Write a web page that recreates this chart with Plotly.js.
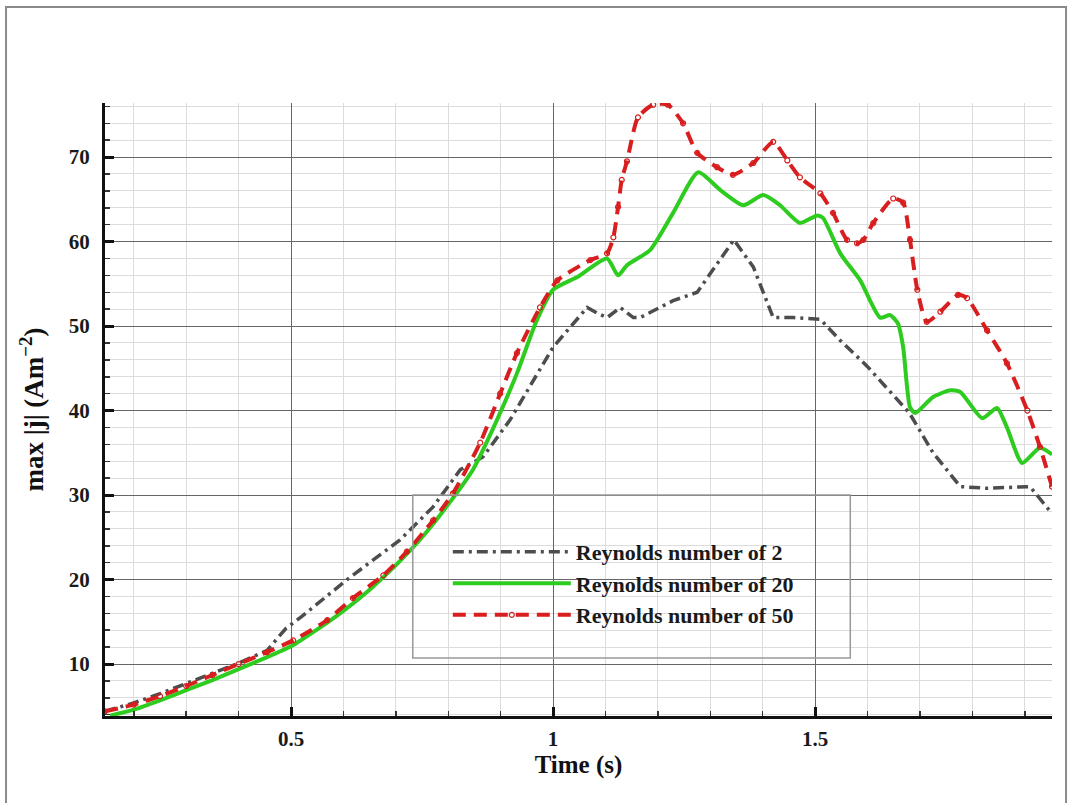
<!DOCTYPE html>
<html>
<head>
<meta charset="utf-8">
<script src="https://cdn.plot.ly/plotly-3.0.1.min.js"></script>
<style>html,body{margin:0;padding:0;background:#fff;}#chart{width:1073px;height:803px;}</style>
</head>
<body>
<div id="chart"></div>
<script>
// Reynolds number of 2 (gray dash-dot)
const re2Time = [0.145, 0.2, 0.25, 0.3, 0.35, 0.4, 0.454, 0.49, 0.52, 0.607, 0.708, 0.771, 0.823, 0.866, 0.918, 0.962, 1.0, 1.065, 1.085, 1.103, 1.128, 1.153, 1.166, 1.229, 1.275, 1.345, 1.382, 1.42, 1.458, 1.51, 1.548, 1.6, 1.68, 1.725, 1.777, 1.828, 1.91, 1.952];
const re2Val  = [4.4, 5.4, 6.5, 7.7, 8.9, 10.1, 11.6, 14.2, 15.6, 20, 24.7, 28.6, 33, 34.5, 38.9, 43.6, 47.5, 52.2, 51.5, 51, 52.2, 51, 51, 53, 54, 60.2, 57, 51, 51, 50.8, 48.3, 45.2, 39.7, 35, 31, 30.8, 31, 27.8];

// Reynolds number of 20 (green solid)
const re20Time = [0.155, 0.2, 0.25, 0.3, 0.35, 0.4, 0.45, 0.5, 0.55, 0.6, 0.65, 0.7, 0.75, 0.8, 0.847, 0.893, 0.931, 0.969, 1.0, 1.046, 1.103, 1.124, 1.141, 1.185, 1.229, 1.277, 1.319, 1.363, 1.401, 1.433, 1.471, 1.504, 1.515, 1.548, 1.586, 1.624, 1.643, 1.658, 1.668, 1.681, 1.691, 1.725, 1.758, 1.777, 1.819, 1.847, 1.866, 1.895, 1.929, 1.952];
const re20Val  = [3.9, 4.6, 5.7, 6.9, 8.1, 9.4, 10.7, 12.1, 14.1, 16.3, 18.8, 21.7, 25.0, 28.9, 33, 38.9, 44.4, 50.7, 54.3, 55.8, 58, 56, 57.2, 59, 63.4, 68.2, 66.1, 64.3, 65.5, 64.3, 62.2, 63.1, 62.8, 58.6, 55.4, 51, 51.3, 50.3, 47.5, 40.4, 39.7, 41.6, 42.4, 42.2, 39.1, 40.3, 38, 33.8, 35.6, 34.8];

// Reynolds number of 50 (red dashed)
const re50Time = [0.145, 0.2, 0.25, 0.3, 0.35, 0.4, 0.454, 0.504, 0.569, 0.618, 0.676, 0.721, 0.771, 0.809, 0.861, 0.899, 0.931, 0.975, 1.008, 1.071, 1.103, 1.115, 1.124, 1.131, 1.141, 1.162, 1.191, 1.219, 1.248, 1.275, 1.313, 1.343, 1.382, 1.42, 1.447, 1.471, 1.51, 1.534, 1.561, 1.58, 1.592, 1.611, 1.649, 1.668, 1.681, 1.695, 1.713, 1.739, 1.773, 1.79, 1.828, 1.866, 1.905, 1.929, 1.952];
const re50Val  = [4.4, 5.2, 6.2, 7.4, 8.7, 10.0, 11.4, 12.8, 15.2, 17.8, 20.5, 23.3, 27, 30.2, 36.2, 42, 46.8, 52.2, 55.4, 57.8, 58.6, 60.5, 64.1, 67.3, 69.5, 74.7, 76.2, 76.2, 74, 70.5, 68.8, 67.9, 69.3, 71.8, 69.6, 67.6, 65.7, 63.4, 60.2, 59.8, 60.2, 62.2, 65.1, 64.6, 60.2, 54.3, 50.5, 51.7, 53.7, 53.3, 49.5, 45.6, 40, 35.7, 31];

const seriesNames = ["Reynolds number of 2", "Reynolds number of 20", "Reynolds number of 50"];
const xTickVals = [0.5, 1, 1.5];
const xTickText = ["0.5", "1", "1.5"];

const serif = "'Liberation Serif', 'Times New Roman', serif";

const traces = [
  {x: re2Time, y: re2Val, name: seriesNames[0], mode: 'lines',
   line: {color: '#4d4d4d', width: 3.5, dash: '11px,5px,3px,5px'}},
  {x: re20Time, y: re20Val, name: seriesNames[1], mode: 'lines',
   line: {color: '#2ecc1f', width: 4, shape: 'spline', smoothing: 0.6}},
  {x: re50Time, y: re50Val, name: seriesNames[2], mode: 'lines+markers',
   line: {color: '#d81e1e', width: 4, dash: '13px,8px', shape: 'spline', smoothing: 0.6},
   marker: {symbol: 'circle-open', size: 5, color: '#d81e1e', line: {width: 1.2}}}
];

const layout = {
  width: 1073, height: 803,
  margin: {l: 105, r: 21, t: 103, b: 87},
  paper_bgcolor: '#ffffff', plot_bgcolor: '#ffffff',
  font: {family: serif, color: '#111', size: 16, weight: 'bold'},
  showlegend: true,
  legend: {x: 0.362, y: 0.302, xanchor: 'left', yanchor: 'top',
           bgcolor: 'rgba(0,0,0,0)', borderwidth: 0, itemwidth: 118,
           font: {family: serif, size: 22, color: '#1a1a1a', weight: 'bold'},
           tracegroupgap: 0},
  xaxis: {
    range: [0.145, 1.952], tickvals: xTickVals, ticktext: xTickText,
    ticks: 'inside', ticklen: 9, tickwidth: 3, tickcolor: '#111',
    showline: true, linecolor: '#111', linewidth: 3, mirror: false,
    showgrid: true, gridcolor: '#666', gridwidth: 1, zeroline: false,
    tickfont: {family: serif, size: 21, weight: 'bold', color: '#1a1a1a'},
    ticklabelstandoff: 2,
    minor: {dtick: 0.1, tick0: 0, ticks: 'inside', ticklen: 5, tickwidth: 1.5, tickcolor: '#333',
            showgrid: true, gridcolor: '#dcdcdc', gridwidth: 1},
    title: {text: 'Time (s)', font: {family: serif, size: 25, weight: 'bold', color: '#111'}, standoff: 0}
  },
  yaxis: {
    range: [3.85, 76.4], tick0: 10, dtick: 10,
    ticks: 'inside', ticklen: 9, tickwidth: 3, tickcolor: '#111',
    showline: true, linecolor: '#111', linewidth: 3, mirror: false,
    showgrid: true, gridcolor: '#666', gridwidth: 1, zeroline: false,
    tickfont: {family: serif, size: 21, weight: 'bold', color: '#1a1a1a'},
    ticklabelstandoff: 8,
    minor: {dtick: 2, tick0: 0, ticks: 'inside', ticklen: 5, tickwidth: 1.5, tickcolor: '#333',
            showgrid: true, gridcolor: '#dcdcdc', gridwidth: 1},
    title: {text: 'max |j| (Am<sup>\u22122</sup>)', font: {family: serif, size: 27, weight: 'bold', color: '#111'}, standoff: 18}
  },
  shapes: [
    {type: 'rect', xref: 'paper', yref: 'paper', x0: 0.325, x1: 0.787, y0: 0.0946, y1: 0.3605,
     line: {color: '#999', width: 1.5}, fillcolor: 'rgba(0,0,0,0)'},
    {type: 'rect', xref: 'paper', yref: 'paper', x0: -0.1045, x1: 1.0148, y0: -0.2, y1: 1.1566,
     line: {color: '#8a8a8a', width: 2}, fillcolor: 'rgba(0,0,0,0)', layer: 'below'}
  ]
};

Plotly.newPlot('chart', traces, layout, {displayModeBar: false, staticPlot: true});
</script>
</body>
</html>
